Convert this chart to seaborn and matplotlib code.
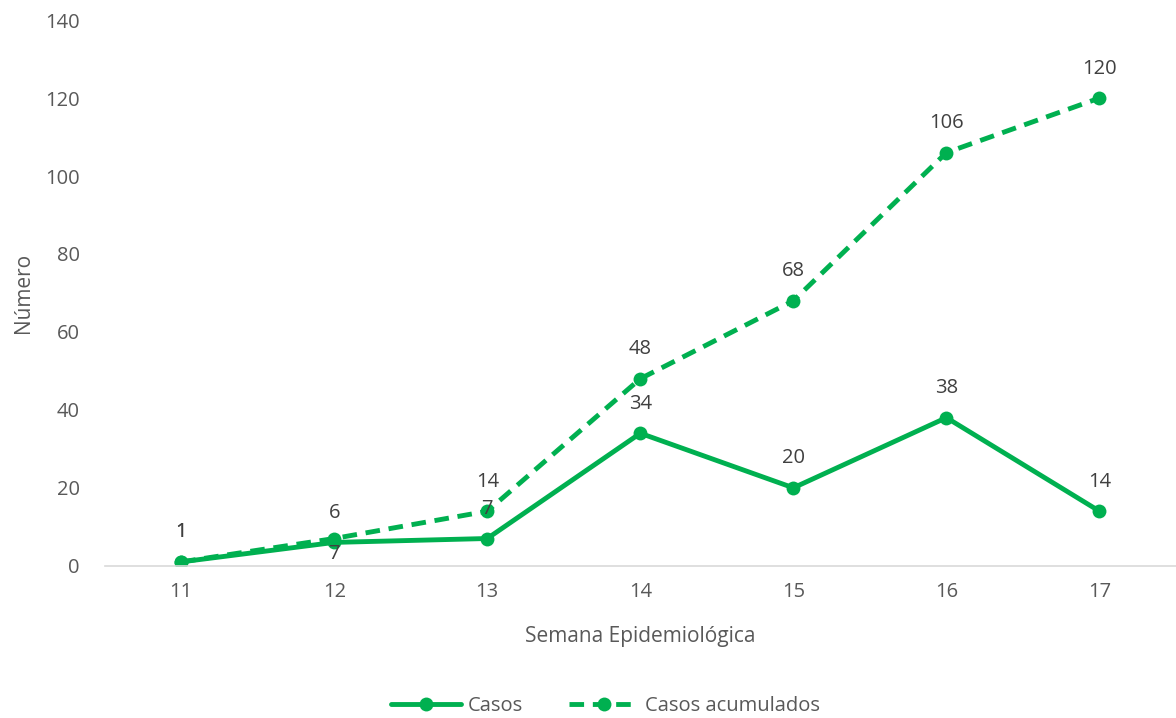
import pandas as pd
import matplotlib
matplotlib.use('Agg')
import matplotlib.pyplot as plt
import seaborn as sb

# Data

semanas = [11, 12, 13, 14, 15, 16, 17]
casos = [1, 6, 7, 34, 20, 38, 14]
casos_acumulados = [1, 7, 14, 48, 68, 106, 120]

# label offsets in points (acumulado at week 12 sits below the marker)
off_casos = [14, 14, 14, 14, 14, 14, 14]
off_acum = [14, -4, 14, 14, 14, 14, 14]

verde = '#00B050'
gris = '#595959'

sb.set_style('white')
plt.rcParams['font.family'] = ['Open Sans', 'DejaVu Sans']

df = pd.DataFrame({
    'semana': semanas * 2,
    'valor': casos + casos_acumulados,
    'serie': ['Casos'] * len(semanas) + ['Casos acumulados'] * len(semanas),
})

fig, ax = plt.subplots(figsize=(11.76, 7.18), dpi=100)
fig.subplots_adjust(left=0.089, right=1.0, bottom=0.212, top=0.972)

sb.lineplot(data=df, x='semana', y='valor', hue='serie', style='serie',
            palette=[verde, verde], dashes={'Casos': '', 'Casos acumulados': (3, 1.8)},
            markers={'Casos': 'o', 'Casos acumulados': 'o'},
            markersize=10, markeredgewidth=0, linewidth=3.5, ax=ax, legend=False)

# Data labels

for x, y, o in zip(semanas, casos, off_casos):
    ax.annotate(str(y), (x, y), xytext=(0, o), textcoords='offset points',
                ha='center', va='bottom' if o > 0 else 'top', fontsize=14.5, color='#404040')

for x, y, o in zip(semanas, casos_acumulados, off_acum):
    ax.annotate(str(y), (x, y), xytext=(0, o), textcoords='offset points',
                ha='center', va='bottom' if o > 0 else 'top', fontsize=14.5, color='#404040')

ax.set_xlim(10.5, 17.5)
ax.set_ylim(0, 140)
ax.set_xticks(semanas)
ax.set_yticks(range(0, 141, 20))
ax.tick_params(axis='both', labelsize=14.5, labelcolor=gris, length=0)
ax.tick_params(axis='y', pad=18)
ax.tick_params(axis='x', pad=12)

ax.set_xlabel('Semana Epidemiológica', fontsize=15, color=gris, labelpad=17)
ax.set_ylabel('Número', fontsize=15, color=gris, labelpad=8)

for s in ['top', 'right', 'left']:
    ax.spines[s].set_visible(False)
ax.spines['bottom'].set_color('#D9D9D9')
ax.spines['bottom'].set_linewidth(1.2)

# Legend

h1 = plt.Line2D([], [], color=verde, lw=3.5, marker='o', markersize=10, markeredgewidth=0)
h2 = plt.Line2D([], [], color=verde, lw=3.5, ls=(0, (3, 1.8)), marker='o', markersize=10, markeredgewidth=0)
fig.legend([h1, h2], ['Casos', 'Casos acumulados'], loc='lower center',
           bbox_to_anchor=(0.515, -0.022), ncol=2, frameon=False, fontsize=14.5,
           handlelength=3.5, columnspacing=2.3, handletextpad=0.3, labelcolor=gris)

plt.savefig('out.png', dpi=100)
